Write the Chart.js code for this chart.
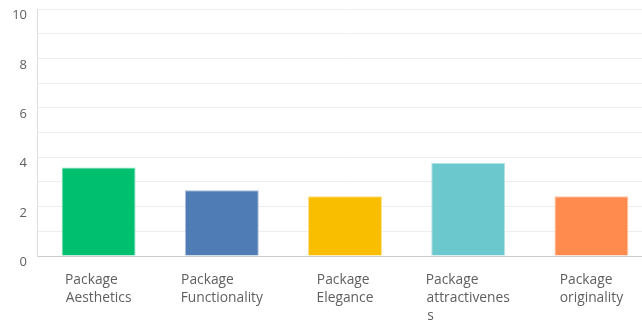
<!DOCTYPE html>
<html>
<head>
<meta charset="utf-8">
<script src="https://cdn.jsdelivr.net/npm/chart.js@4.4.1/dist/chart.umd.min.js"></script>
<style>
  html, body { margin: 0; padding: 0; background: #fff; overflow: hidden; }
  #wrap { width: 653px; height: 320px; }
</style>
</head>
<body>
<div id="wrap"><canvas id="bars" width="653" height="320"></canvas></div>
<script>
// data
const categories = [
  ['Package', 'Aesthetics'],
  ['Package', 'Functionality'],
  ['Package', 'Elegance'],
  ['Package', 'attractivenes', 's'],
  ['Package', 'originality']
];
const scores = [3.58, 2.66, 2.42, 3.78, 2.42];
const yTickLabels = [0, 2, 4, 6, 8, 10];

const barColors = ['#00bf6f', '#507cb6', '#f9be00', '#6bc8cd', '#ff8b4f'];
const barEdges = ['#7fdfb7', '#a7bdda', '#fcde7f', '#b5e3e6', '#ffc5a7'];

const fontFamily = '"Open Sans", "Noto Sans", sans-serif';
const labelSize = 13.8;

// pad short lines with spaces so centred lines look left aligned
const measure = document.createElement('canvas').getContext('2d');
measure.font = labelSize + 'px ' + fontFamily;
function leftAlign(lines) {
  const widest = Math.max(...lines.map(l => measure.measureText(l).width));
  return lines.map(l => {
    let s = l;
    while (Math.abs(measure.measureText(s + ' ').width - widest) < Math.abs(measure.measureText(s).width - widest)) {
      s += ' ';
    }
    return s;
  });
}

const ctx = document.getElementById('bars').getContext('2d');

new Chart(ctx, {
  type: 'bar',
  data: {
    labels: categories.map(leftAlign),
    datasets: [{
      data: scores,
      backgroundColor: barColors,
      borderColor: barEdges,
      borderWidth: 1,
      barPercentage: 0.6,
      categoryPercentage: 1
    }]
  },
  options: {
    responsive: false,
    animation: false,
    layout: { padding: { top: 9, right: 0, left: 0, bottom: 0 } },
    plugins: {
      legend: { display: false },
      tooltip: { enabled: false }
    },
    scales: {
      x: {
        afterFit: s => { s.height = 64; s.paddingLeft = 0; s.paddingRight = 0; },
        border: { color: '#cccccc' },
        grid: { display: false },
        ticks: {
          padding: 7,
          color: '#5f5f5f',
          maxRotation: 0,
          autoSkip: false,
          font: { family: fontFamily, size: labelSize, lineHeight: '18px' }
        }
      },
      y: {
        min: 0,
        max: 10,
        afterFit: s => { s.width = 37; s.paddingTop = 0; s.paddingBottom = 0; },
        border: { color: '#dddddd' },
        grid: { color: '#eeeeee', drawTicks: false },
        ticks: {
          stepSize: 1,
          autoSkip: false,
          padding: 10,
          color: '#5f5f5f',
          font: { family: fontFamily, size: 13, lineHeight: 1 },
          callback: v => yTickLabels.includes(v) ? ['', String(v)] : ''
        }
      }
    }
  }
});
</script>
</body>
</html>
